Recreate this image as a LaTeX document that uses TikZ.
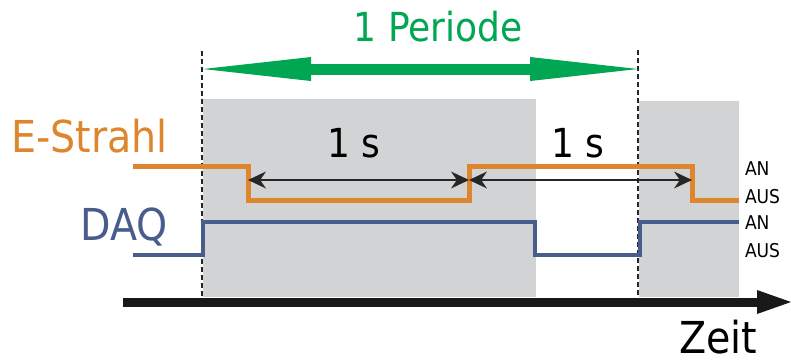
\documentclass[tikz,border=0pt]{standalone}
\usepackage{fontspec}
\setmainfont{DejaVu Sans Condensed}
\usepackage{xcolor}
\usetikzlibrary{arrows.meta,positioning}

\definecolor{beamorange}{RGB}{221,134,46}
\definecolor{daqblue}{RGB}{72,93,139}
\definecolor{periodgreen}{RGB}{0,166,81}
\definecolor{boxgray}{RGB}{209,211,212}

\begin{document}
\begin{tikzpicture}[
    x=1pt, y=-1pt,
    every node/.style={inner sep=0pt, outer sep=0pt},
    signame/.style={font=\fontsize{44}{44}\selectfont, anchor=base east},
    level/.style={font=\fontsize{19}{19}\selectfont, anchor=base west},
    beam/.style={draw=beamorange, line width=5pt},
    daq/.style={draw=daqblue, line width=4.5pt},
    periodline/.style={draw=black!85, line width=2.8pt, dash pattern=on 5pt off 3pt},
    periodarrow/.style={draw=periodgreen, line width=11pt,
      {Triangle[length=108pt, width=24pt, line width=0pt]}-{Triangle[length=108pt, width=24pt, line width=0pt]}},
    span/.style={draw=black!85, line width=2.2pt,
      {Stealth[length=18pt, width=17pt, line width=0pt]}-{Stealth[length=18pt, width=17pt, line width=0pt]}},
    axis/.style={draw=black!90, line width=9pt, -{Triangle[length=34pt, width=24pt, line width=0pt]}}]

  \useasboundingbox (0,0) rectangle (791,362);

  % grey phases
  \fill[boxgray] (203,99) rectangle (536,297);
  \fill[boxgray] (639,101) rectangle (739,297);

  % time axis
  \coordinate (axstart) at (123,302);
  \coordinate (axend) at (791,302);
  \draw[axis] (axstart) -- (axend);

  % period marks
  \coordinate (p1top) at (202,51);
  \coordinate (p1bot) at (202,297);
  \coordinate (p2top) at (638,50);
  \coordinate (p2bot) at (638,297);
  \draw[periodline] (p1top) -- (p1bot);
  \draw[periodline] (p2top) -- (p2bot);

  \coordinate (pl) at (203,69);
  \coordinate (pr) at (638,69);
  \draw[periodarrow] (pl) -- (pr);
  \node[font=\fontsize{40}{40}\selectfont, text=periodgreen, anchor=base]
    (period) at (438,41) {1 Periode};

  % signals
  \draw[beam] (133,166) -- (248,166) -- (248,200) -- (469,200) -- (469,166)
    -- (692,166) -- (692,200) -- (739,200);
  \draw[daq] (133,255) -- (203,255) -- (203,222) -- (535,222) -- (535,255)
    -- (640,255) -- (640,222) -- (739,222);

  % durations
  \coordinate (s1) at (248,180);
  \coordinate (s2) at (469,180);
  \coordinate (s3) at (692,180);
  \draw[span] (s1) -- (s2);
  \draw[span] (s2) -- (s3);
  \node[font=\fontsize{40}{40}\selectfont, anchor=base] (dur1) at (354,157) {1 s};
  \node[font=\fontsize{40}{40}\selectfont, anchor=base] (dur2) at (578,157) {1 s};

  % labels
  \node[signame, text=beamorange] (beamlabel) at (168,152) {E-Strahl};
  \node[signame, text=daqblue] (daqlabel) at (168,240) {DAQ};
  \node[level] (beamon) at (745,175) {AN};
  \node[level] (beamoff) at (745,203) {AUS};
  \node[level] (daqon) at (745,229) {AN};
  \node[level] (daqoff) at (745,257) {AUS};
  \node[font=\fontsize{44}{44}\selectfont, anchor=base east] (time) at (757,353) {Zeit};
\end{tikzpicture}
\end{document}
